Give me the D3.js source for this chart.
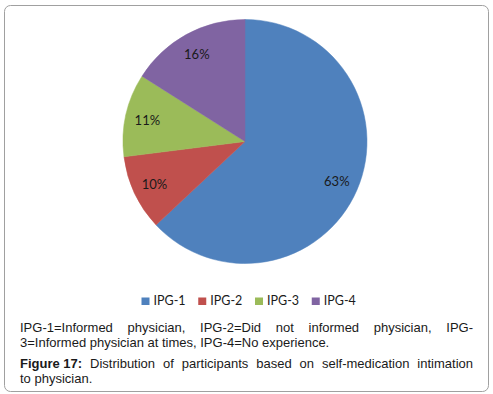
<html><head>
<script src="https://d3js.org/d3.v7.min.js"></script>
<style>
  body { margin: 0; background: #fff; }
  #chart text { fill: #1a1a1a; }
  .slice-label { font-family: Lato, "Open Sans", sans-serif; font-size: 13px; text-anchor: middle; }
  .legend text { font-family: Lato, "Open Sans", sans-serif; font-size: 12.5px; }
  .caption { font-family: "Liberation Sans", Arial, sans-serif; font-size: 13px; }
</style>
</head>
<body>
<svg id="chart" width="493" height="394"></svg>
<script>

// data
const groups = ["IPG-1", "IPG-2", "IPG-3", "IPG-4"];
const shares = [63, 10, 11, 16];
const colors = ["#4F81BD", "#C0504D", "#9BBB59", "#8064A2"];

const captionLines = [
  { words: ["IPG-1=Informed", "physician,", "IPG-2=Did", "not", "informed", "physician,", "IPG-"], justify: true },
  { words: ["3=Informed", "physician", "at", "times,", "IPG-4=No", "experience."], justify: false },
  { words: ["Figure 17:", "Distribution", "of", "participants", "based", "on", "self-medication", "intimation"], justify: true, bold: 1 },
  { words: ["to", "physician."], justify: false }
];

let svg = d3.select("#chart");

// frame
svg.append("rect")
  .attr("x", 4.5).attr("y", 5.5)
  .attr("width", 484).attr("height", 386)
  .attr("rx", 6)
  .style("fill", "none").style("stroke", "#a0a0a0").style("stroke-width", 1);

// pie
const cx = 245, cy = 141.5, radius = 122;
const pie = d3.pie().sort(null).value(d => d)(shares);
const arc = d3.arc().innerRadius(0).outerRadius(radius);
const labelArc = d3.arc().innerRadius(radius * 0.82).outerRadius(radius * 0.82);

let pieG = svg.append("g").attr("transform", "translate(" + cx + "," + cy + ")");

pieG.selectAll("path")
  .data(pie)
  .join("path")
  .attr("d", arc)
  .style("fill", (d, i) => colors[i])
  .style("stroke", (d, i) => colors[i])
  .style("stroke-width", 0.5);

pieG.selectAll("text")
  .data(pie)
  .join("text")
  .attr("class", "slice-label")
  .attr("transform", d => {
    let c = labelArc.centroid(d);
    return "translate(" + c[0] + "," + (c[1] + 5) + ")";
  })
  .text(d => d.data + "%");

// legend
const legendX = d3.scaleBand().domain(groups).range([141.5, 368.5]);
let legend = svg.append("g").attr("class", "legend");
let item = legend.selectAll("g")
  .data(groups)
  .join("g")
  .attr("transform", d => "translate(" + legendX(d) + ",0)");
item.append("rect")
  .attr("x", 0).attr("y", 297.5)
  .attr("width", 8).attr("height", 7.5)
  .style("fill", (d, i) => colors[i]);
item.append("text")
  .attr("x", 12).attr("y", 305)
  .text(d => d);

// caption, justified by hand
const captionLeft = 20, captionRight = 473;
const baselines = [332, 346.5, 368, 382.5];
let cap = svg.append("g").attr("class", "caption");

captionLines.forEach((line, li) => {
  let g = cap.append("g");
  let nodes = line.words.map((w, wi) => {
    return g.append("text")
      .attr("y", baselines[li])
      .style("font-weight", (line.bold && wi < line.bold) ? "bold" : "normal")
      .text(w);
  });
  let widths = nodes.map(n => n.node().getComputedTextLength());
  let total = d3.sum(widths);
  let space = line.justify
    ? (captionRight - captionLeft - total) / (nodes.length - 1)
    : 3.6;
  let x = captionLeft;
  nodes.forEach((n, i) => {
    n.attr("x", x);
    x += widths[i] + space;
  });
});

</script>
</body>
</html>
